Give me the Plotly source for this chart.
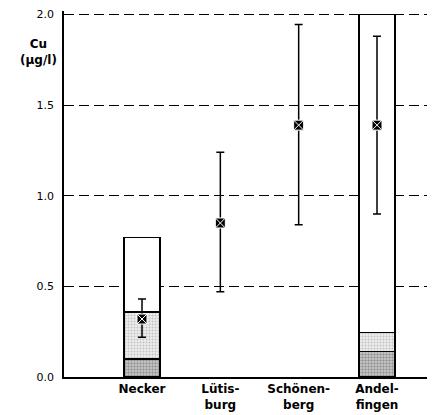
import plotly.graph_objects as go

categories = ["Necker", "Lütisburg", "Schönenberg", "Andelfingen"]
tick_labels = ["Necker", "Lütis-<br>burg", "Schönen-<br>berg", "Andel-<br>fingen"]

# stacked box segments
seg_dense = [0.10, None, None, 0.14]          # densely stippled bottom part
seg_light = [0.26, None, None, 0.105]         # lightly stippled middle part
seg_white = [0.41, None, None, 1.755]         # open upper part

# mean values with error range
mean_vals = [0.32, 0.85, 1.39, 1.39]
upper_vals = [0.43, 1.24, 1.945, 1.88]
lower_vals = [0.22, 0.47, 0.84, 0.90]

y_ticks = [0.0, 0.5, 1.0, 1.5, 2.0]

FONT = "DejaVu Sans"
bar_w = 0.46

fig = go.Figure()
fig.add_trace(go.Bar(
    x=categories, y=seg_dense, width=bar_w,
    marker=dict(color="#b8b8b8", line=dict(color="black", width=1.5),
                pattern=dict(shape=".", fgcolor="#555555", bgcolor="#d0d0d0",
                             size=3, solidity=0.5, fillmode="overlay")),
    showlegend=False, hoverinfo="skip"))
fig.add_trace(go.Bar(
    x=categories, y=seg_light, width=bar_w,
    marker=dict(color="white", line=dict(color="black", width=1.5),
                pattern=dict(shape=".", fgcolor="#9a9a9a", bgcolor="#ececec",
                             size=3, solidity=0.35, fillmode="overlay")),
    showlegend=False, hoverinfo="skip"))
fig.add_trace(go.Bar(
    x=categories, y=seg_white, width=bar_w,
    marker=dict(color="white", line=dict(color="black", width=1.5)),
    showlegend=False, hoverinfo="skip"))

err_plus = [u - m for u, m in zip(upper_vals, mean_vals)]
err_minus = [m - l for m, l in zip(mean_vals, lower_vals)]
fig.add_trace(go.Scatter(
    x=categories, y=mean_vals, mode="markers",
    marker=dict(symbol="square-x", size=10, color="black",
                line=dict(color="white", width=1)),
    error_y=dict(type="data", symmetric=False, array=err_plus,
                 arrayminus=err_minus, color="black", thickness=1.5, width=4),
    showlegend=False))

fig.update_layout(
    width=427, height=407,
    margin=dict(l=56, r=2, t=2.5, b=38, autoexpand=False),
    plot_bgcolor="white", paper_bgcolor="white",
    barmode="stack",
    font=dict(family=FONT, color="black", size=12),
    xaxis=dict(range=[-0.996, 3.715], tickmode="array", tickvals=categories,
               ticktext=["<b>" + t.replace("<br>", "</b><br><b>") + "</b>" for t in tick_labels],
               showline=True, linecolor="black", linewidth=1.5, ticks="",
               showgrid=False, automargin=False, tickfont=dict(family=FONT, size=12)),
    yaxis=dict(range=[0, 2.02], tickvals=y_ticks, tickformat=".1f",
               showline=True, linecolor="black", linewidth=1.5, ticks="",
               showgrid=True, gridcolor="black", gridwidth=1.3,
               griddash="10px,5px", zeroline=False, ticklabeloverflow="allow",
               automargin=False,
               tickfont=dict(family=FONT, size=11), ticklabelstandoff=6),
    annotations=[dict(text="<b>Cu</b><br><b>(µg/l)</b>", xref="paper", yref="paper",
                      x=-0.069, y=0.887, xanchor="center", yanchor="middle",
                      showarrow=False, align="center",
                      font=dict(family=FONT, size=12))],
)

fig.write_html("out.html")
